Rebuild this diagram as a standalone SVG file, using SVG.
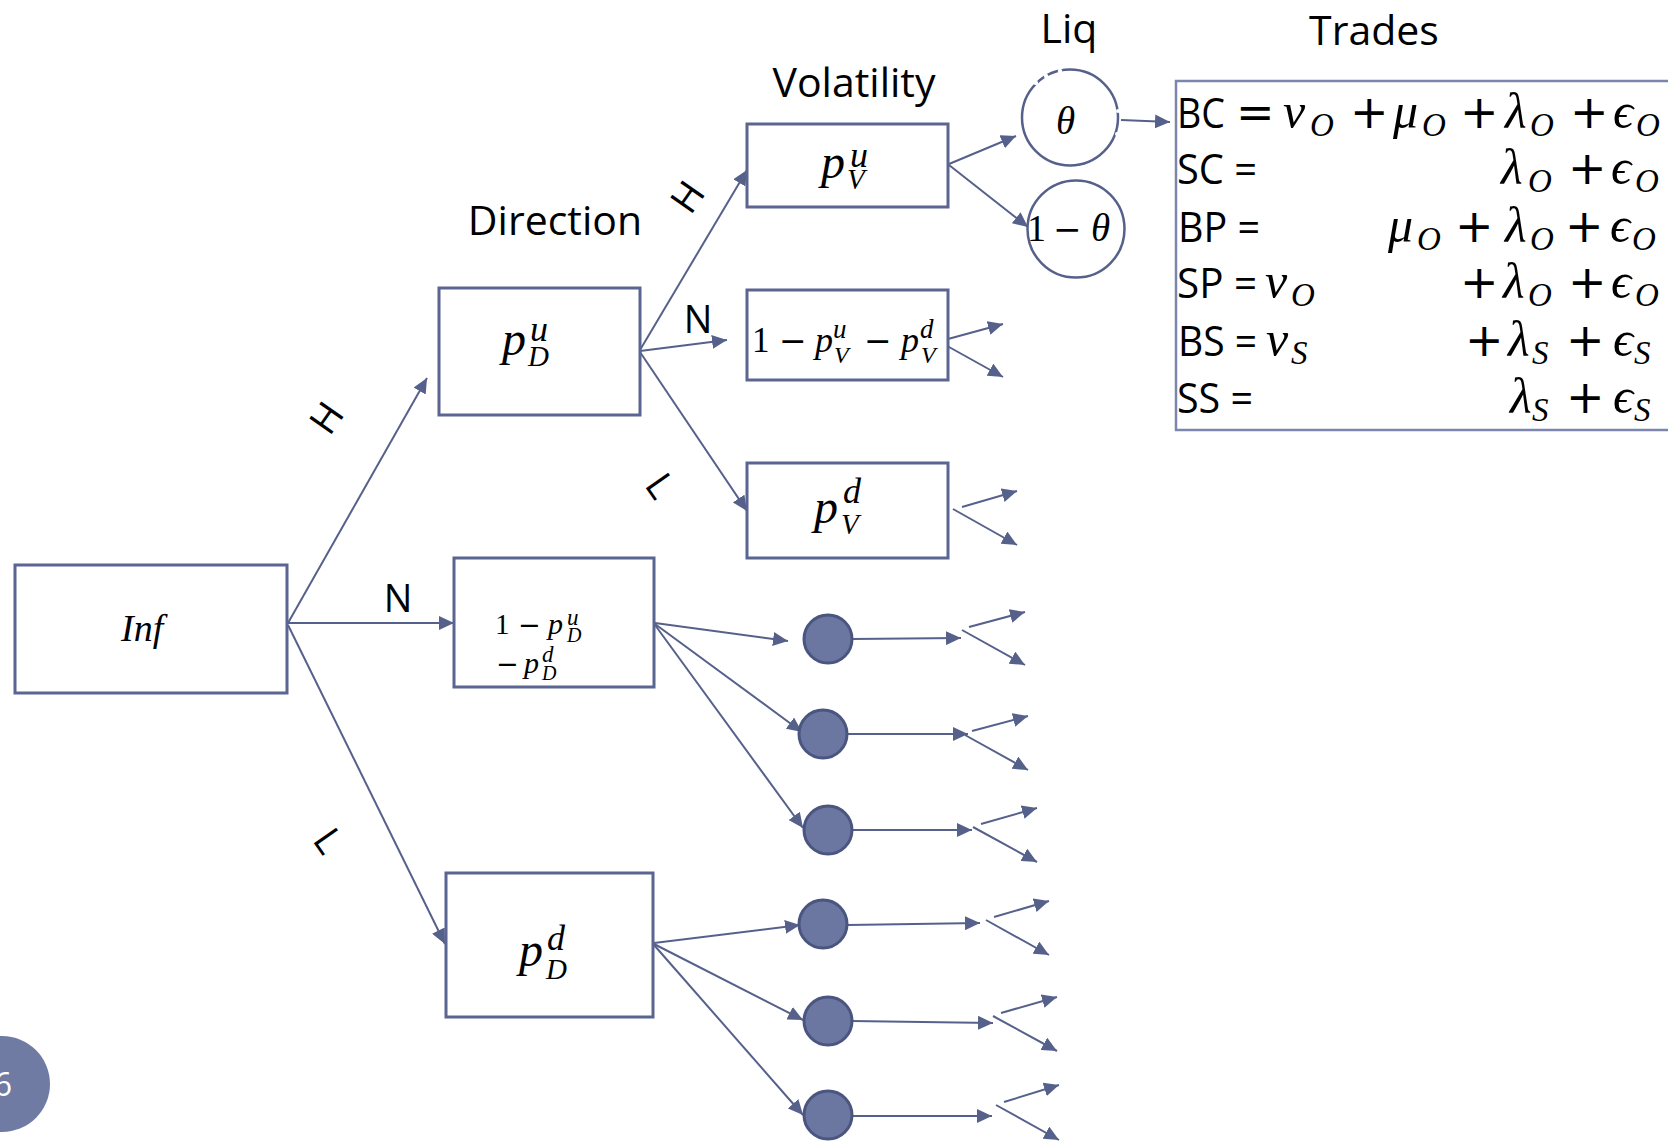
<svg xmlns="http://www.w3.org/2000/svg" width="1668" height="1141" viewBox="0 0 1668 1141">
  <style>
    .box { fill: #ffffff; stroke: #5A6591; stroke-width: 3; }
    .ring { fill: #ffffff; stroke: #56618B; stroke-width: 2.5; }
    .dot { fill: #6B77A0; stroke: #4A5680; stroke-width: 3; }
    .edge { fill: none; stroke: #56618B; stroke-width: 2; marker-end: url(#arrow); }
    .head { font-family: "Open Sans", "Liberation Sans", sans-serif; font-size: 41px; fill: #000; text-anchor: middle; }
    .tag { font-family: "Open Sans", "Liberation Sans", sans-serif; font-size: 38px; fill: #000; text-anchor: middle; }
    .sans { font-family: "Open Sans", "Liberation Sans", sans-serif; font-size: 42px; fill: #000; }
    .mi { font-family: "Liberation Serif", "DejaVu Serif", serif; font-style: italic; fill: #000; }
    .mn { font-family: "Liberation Serif", "DejaVu Serif", serif; fill: #000; }
    .op { font-family: "DejaVu Sans", "Liberation Sans", sans-serif; fill: #000; }
  </style>
  <defs>
    <marker id="arrow" viewBox="0 0 15 14" refX="15" refY="7" markerWidth="15" markerHeight="14" markerUnits="userSpaceOnUse" orient="auto">
      <path d="M0,0 L15,7 L0,14 Z" fill="#56618B"/>
    </marker>
  </defs>
  <rect width="1668" height="1141" fill="#ffffff"/>

  <!-- column headings -->
  <g id="headings">
    <text class="head" x="1069" y="43">Liq</text>
    <text class="head" x="1374" y="45">Trades</text>
    <text class="head" x="854" y="97">Volatility</text>
    <text class="head" x="555" y="235">Direction</text>
  </g>

  <!-- branch labels -->
  <g id="branch-labels">
    <text class="tag" transform="translate(327,418) rotate(-55)" dy="13">H</text>
    <text class="tag" x="398" y="612">N</text>
    <text class="tag" transform="translate(328,841) rotate(55)" dy="13">L</text>
    <text class="tag" transform="translate(688,197) rotate(-55)" dy="13">H</text>
    <text class="tag" x="698" y="333">N</text>
    <text class="tag" transform="translate(660,486) rotate(55)" dy="13">L</text>
  </g>

  <!-- connectors -->
  <g id="connectors">
    <!-- Inf to direction -->
    <path class="edge" d="M288,623 L427,378"/>
    <path class="edge" d="M284,623 L454,623"/>
    <path class="edge" d="M288,625 L445,944"/>
    <!-- up direction to volatility -->
    <path class="edge" d="M640,350 L747,170"/>
    <path class="edge" d="M640,351 L727,340"/>
    <path class="edge" d="M640,352 L747,511"/>
    <!-- high volatility to liquidity -->
    <path class="edge" d="M949,164 L1016,136"/>
    <path class="edge" d="M949,165 L1028,227"/>
    <path class="edge" d="M1121,120 L1170,122"/>
    <!-- other volatility boxes -->
    <path class="edge" d="M948,339 L1003,324"/>
    <path class="edge" d="M940,342 L1003,377"/>
    <path class="edge" d="M962,507 L1017,491"/>
    <path class="edge" d="M953,509 L1017,545"/>
    <!-- neutral direction to dots -->
    <path class="edge" d="M655,623 L788,641"/>
    <path class="edge" d="M655,624 L802,732"/>
    <path class="edge" d="M655,625 L803,828"/>
    <!-- down direction to dots -->
    <path class="edge" d="M654,943 L800,925"/>
    <path class="edge" d="M654,944 L803,1020"/>
    <path class="edge" d="M654,945 L803,1115"/>
    <!-- dots onward -->
    <path class="edge" d="M852,639 L961,638"/>
    <path class="edge" d="M848,734 L968,734"/>
    <path class="edge" d="M852,830 L972,830"/>
    <path class="edge" d="M848,925 L980,923"/>
    <path class="edge" d="M852,1021 L993,1023"/>
    <path class="edge" d="M853,1116 L992,1116"/>
    <!-- forks -->
    <path class="edge" d="M969,627 L1025,612"/>
    <path class="edge" d="M962,630 L1025,665"/>
    <path class="edge" d="M972,731 L1028,716"/>
    <path class="edge" d="M965,735 L1028,770"/>
    <path class="edge" d="M981,824 L1037,808"/>
    <path class="edge" d="M973,827 L1037,862"/>
    <path class="edge" d="M994,917 L1049,901"/>
    <path class="edge" d="M986,920 L1049,955"/>
    <path class="edge" d="M1001,1013 L1057,997"/>
    <path class="edge" d="M993,1016 L1057,1051"/>
    <path class="edge" d="M1004,1102 L1059,1085"/>
    <path class="edge" d="M996,1105 L1059,1140"/>
  </g>

  <!-- root -->
  <g id="node-inf">
    <rect class="box" x="15" y="565" width="272" height="128"/>
    <text class="mi" x="121" y="641" font-size="38">Inf</text>
  </g>

  <!-- direction level -->
  <g id="node-dir-up">
    <rect class="box" x="439" y="288" width="201" height="127"/>
    <text class="mi" x="502" y="355" font-size="48">p</text>
    <text class="mi" x="530" y="341" font-size="36">u</text>
    <text class="mi" x="528" y="366" font-size="29">D</text>
  </g>
  <g id="node-dir-neutral">
    <rect class="box" x="454" y="558" width="200" height="129"/>
    <text class="mn" x="495" y="634" font-size="29">1</text>
    <text class="op" x="518" y="634" font-size="27">−</text>
    <text class="mi" x="548" y="634" font-size="30">p</text>
    <text class="mi" x="567" y="625" font-size="23">u</text>
    <text class="mi" x="567" y="642" font-size="20">D</text>
    <text class="op" x="496" y="673" font-size="27">−</text>
    <text class="mi" x="524" y="673" font-size="30">p</text>
    <text class="mi" x="542" y="662" font-size="23">d</text>
    <text class="mi" x="542" y="680" font-size="20">D</text>
  </g>
  <g id="node-dir-down">
    <rect class="box" x="446" y="873" width="207" height="144"/>
    <text class="mi" x="519" y="966" font-size="48">p</text>
    <text class="mi" x="547" y="950" font-size="36">d</text>
    <text class="mi" x="546" y="979" font-size="29">D</text>
  </g>

  <!-- volatility level -->
  <g id="node-vol-up">
    <rect class="box" x="747" y="124" width="201" height="83"/>
    <text class="mi" x="821" y="178" font-size="48">p</text>
    <text class="mi" x="850" y="167" font-size="36">u</text>
    <text class="mi" x="847" y="189" font-size="29">V</text>
  </g>
  <g id="node-vol-neutral">
    <rect class="box" x="747" y="290" width="201" height="90"/>
    <text class="mn" x="752" y="352" font-size="35">1</text>
    <text class="op" x="779" y="352" font-size="33">−</text>
    <text class="mi" x="815" y="352" font-size="36">p</text>
    <text class="mi" x="833" y="338" font-size="27">u</text>
    <text class="mi" x="834" y="363" font-size="24">V</text>
    <text class="op" x="864" y="352" font-size="33">−</text>
    <text class="mi" x="901" y="352" font-size="36">p</text>
    <text class="mi" x="920" y="338" font-size="27">d</text>
    <text class="mi" x="921" y="363" font-size="24">V</text>
  </g>
  <g id="node-vol-down">
    <rect class="box" x="747" y="463" width="201" height="95"/>
    <text class="mi" x="814" y="523" font-size="48">p</text>
    <text class="mi" x="843" y="503" font-size="36">d</text>
    <text class="mi" x="841" y="534" font-size="29">V</text>
  </g>

  <!-- liquidity level -->
  <g id="node-liq-theta">
    <circle class="ring" cx="1070" cy="117.5" r="48"/>
    <g fill="#ffffff">
      <circle cx="1036" cy="83" r="2.2"/>
      <circle cx="1046" cy="76" r="2.2"/>
      <circle cx="1060" cy="71" r="2.2"/>
      <circle cx="1118" cy="111" r="2"/>
      <circle cx="1117" cy="134" r="2"/>
    </g>
    <text class="mi" x="1056" y="134" font-size="39">θ</text>
  </g>
  <g id="node-liq-one-minus-theta">
    <circle class="ring" cx="1076" cy="229" r="48.5"/>
    <text class="mn" x="1027" y="241" font-size="38">1</text>
    <text class="op" x="1053" y="241" font-size="34">−</text>
    <text class="mi" x="1091" y="241" font-size="39">θ</text>
  </g>

  <!-- trades table -->
  <g id="node-trades">
    <rect x="1176" y="81" width="520" height="349" fill="#ffffff" stroke="#7C86AC" stroke-width="2.5"/>
    <!-- BC -->
    <text class="sans" x="1177" y="128" textLength="48" lengthAdjust="spacingAndGlyphs">BC</text>
    <text class="op" x="1236" y="128" font-size="46">=</text>
    <text class="mi" x="1283" y="128" font-size="50">ν</text>
    <text class="mi" x="1310" y="136" font-size="33">O</text>
    <text class="op" x="1350" y="128" font-size="46">+</text>
    <text class="mi" x="1393" y="128" font-size="50">μ</text>
    <text class="mi" x="1422" y="136" font-size="33">O</text>
    <text class="op" x="1460" y="128" font-size="46">+</text>
    <text class="mi" x="1505" y="128" font-size="50">λ</text>
    <text class="mi" x="1530" y="136" font-size="33">O</text>
    <text class="op" x="1570" y="128" font-size="46">+</text>
    <text class="mi" x="1613" y="128" font-size="50">ϵ</text>
    <text class="mi" x="1636" y="136" font-size="33">O</text>
    <!-- SC -->
    <text class="sans" x="1177" y="184" textLength="80" lengthAdjust="spacingAndGlyphs">SC =</text>
    <text class="mi" x="1501" y="184" font-size="50">λ</text>
    <text class="mi" x="1528" y="192" font-size="33">O</text>
    <text class="op" x="1568" y="184" font-size="46">+</text>
    <text class="mi" x="1611" y="184" font-size="50">ϵ</text>
    <text class="mi" x="1635" y="192" font-size="33">O</text>
    <!-- BP -->
    <text class="sans" x="1178" y="242" textLength="82" lengthAdjust="spacingAndGlyphs">BP =</text>
    <text class="mi" x="1388" y="242" font-size="50">μ</text>
    <text class="mi" x="1417" y="250" font-size="33">O</text>
    <text class="op" x="1455" y="242" font-size="46">+</text>
    <text class="mi" x="1505" y="242" font-size="50">λ</text>
    <text class="mi" x="1530" y="250" font-size="33">O</text>
    <text class="op" x="1565" y="242" font-size="46">+</text>
    <text class="mi" x="1610" y="242" font-size="50">ϵ</text>
    <text class="mi" x="1632" y="250" font-size="33">O</text>
    <!-- SP -->
    <text class="sans" x="1177" y="298" textLength="80" lengthAdjust="spacingAndGlyphs">SP =</text>
    <text class="mi" x="1265" y="298" font-size="50">ν</text>
    <text class="mi" x="1291" y="306" font-size="33">O</text>
    <text class="op" x="1460" y="298" font-size="46">+</text>
    <text class="mi" x="1503" y="298" font-size="50">λ</text>
    <text class="mi" x="1528" y="306" font-size="33">O</text>
    <text class="op" x="1568" y="298" font-size="46">+</text>
    <text class="mi" x="1611" y="298" font-size="50">ϵ</text>
    <text class="mi" x="1635" y="306" font-size="33">O</text>
    <!-- BS -->
    <text class="sans" x="1178" y="356" textLength="79" lengthAdjust="spacingAndGlyphs">BS =</text>
    <text class="mi" x="1266" y="356" font-size="50">ν</text>
    <text class="mi" x="1291" y="364" font-size="33">S</text>
    <text class="op" x="1465" y="356" font-size="46">+</text>
    <text class="mi" x="1508" y="356" font-size="50">λ</text>
    <text class="mi" x="1532" y="364" font-size="33">S</text>
    <text class="op" x="1566" y="356" font-size="46">+</text>
    <text class="mi" x="1613" y="356" font-size="50">ϵ</text>
    <text class="mi" x="1634" y="364" font-size="33">S</text>
    <!-- SS -->
    <text class="sans" x="1177" y="413" textLength="76" lengthAdjust="spacingAndGlyphs">SS =</text>
    <text class="mi" x="1510" y="413" font-size="50">λ</text>
    <text class="mi" x="1532" y="421" font-size="33">S</text>
    <text class="op" x="1566" y="413" font-size="46">+</text>
    <text class="mi" x="1613" y="413" font-size="50">ϵ</text>
    <text class="mi" x="1634" y="421" font-size="33">S</text>
  </g>

  <!-- unlabelled outcome dots -->
  <g id="node-dot-1"><circle class="dot" cx="828" cy="639" r="24"/></g>
  <g id="node-dot-2"><circle class="dot" cx="823" cy="734" r="24"/></g>
  <g id="node-dot-3"><circle class="dot" cx="828" cy="830" r="24"/></g>
  <g id="node-dot-4"><circle class="dot" cx="823" cy="924" r="24"/></g>
  <g id="node-dot-5"><circle class="dot" cx="828" cy="1021" r="24"/></g>
  <g id="node-dot-6"><circle class="dot" cx="828" cy="1115" r="24"/></g>

  <!-- slide number badge -->
  <g id="slide-number">
    <circle cx="2" cy="1084" r="48" fill="#6F7BA3"/>
    <text x="3" y="1096" font-family="Open Sans, Liberation Sans, sans-serif" font-size="32" fill="#ffffff" text-anchor="middle">6</text>
  </g>
</svg>
